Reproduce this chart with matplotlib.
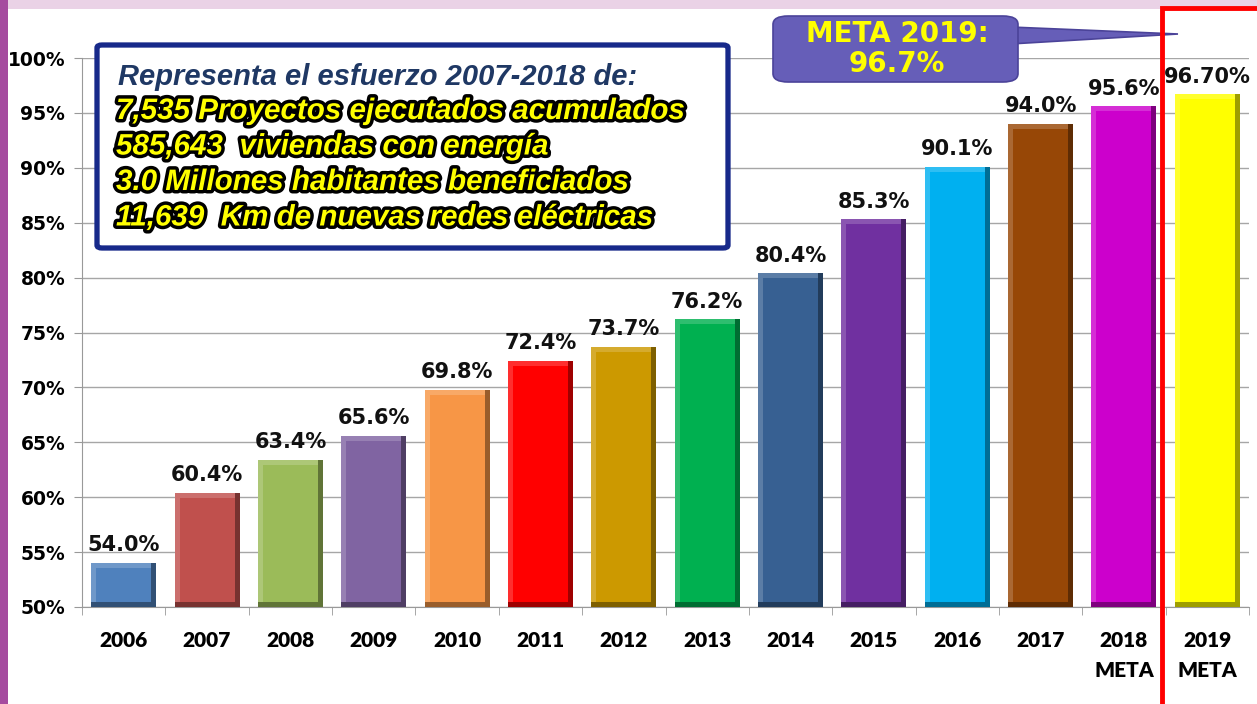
import matplotlib.pyplot as plt
import matplotlib.patheffects as pe
from matplotlib.patches import FancyBboxPatch, Rectangle, Polygon
import matplotlib.colors as mcolors

years = ["2006", "2007", "2008", "2009", "2010", "2011", "2012",
         "2013", "2014", "2015", "2016", "2017", "2018\nMETA", "2019\nMETA"]
values = [54.0, 60.4, 63.4, 65.6, 69.8, 72.4, 73.7, 76.2, 80.4, 85.3, 90.1, 94.0, 95.6, 96.7]
labels = ["54.0%", "60.4%", "63.4%", "65.6%", "69.8%", "72.4%", "73.7%",
          "76.2%", "80.4%", "85.3%", "90.1%", "94.0%", "95.6%", "96.70%"]
colors = ["#4F81BD", "#C0504D", "#9BBB59", "#8064A2", "#F79646", "#FF0000", "#CC9900",
          "#00B050", "#376092", "#7030A0", "#00B0F0", "#974706", "#CC00CC", "#FFFF00"]
box_lines = ["7,535 Proyectos ejecutados acumulados",
             "585,643  viviendas con energía",
             "3.0 Millones habitantes beneficiados",
             "11,639  Km de nuevas redes eléctricas"]

W, H = 1257, 704
fig = plt.figure(figsize=(W / 100, H / 100), dpi=100, facecolor="#A54B9F")

# background: purple frame on the left, light pink strip on top, white slide
fig.patches.append(Rectangle((8 / W, 0), 1, 1, transform=fig.transFigure,
                             facecolor="#EAD2E6", edgecolor="none", zorder=-2))
fig.patches.append(Rectangle((8 / W, 0), 1, 1 - 9 / H, transform=fig.transFigure,
                             facecolor="white", edgecolor="none", zorder=-1))

ax = fig.add_axes([82 / W, 1 - 607 / H, (1249 - 82) / W, (607 - 58) / H])
ax.set_facecolor("none")

x = list(range(len(values)))
bw = 0.78
base = 50
bx = 0.06   # bevel width in x units
by = 0.45   # bevel height in y units


def shade(c, f):
    r, g, b = mcolors.to_rgb(c)
    if f < 1:
        return (r * f, g * f, b * f)
    f = f - 1
    return (r + (1 - r) * f, g + (1 - g) * f, b + (1 - b) * f)


for i, v in enumerate(values):
    c = colors[i]
    ax.bar(i, v - base, bw, bottom=base, color=shade(c, 0.62), zorder=3)
    ax.bar(i - bx / 2, v - base - by, bw - bx, bottom=base + by, color=shade(c, 1.18), zorder=3)
    ax.bar(i, v - base - 2 * by, bw - 2 * bx, bottom=base + by, color=c, zorder=3)
    ax.text(i, v + 0.7, labels[i], ha="center", va="bottom", fontsize=15,
            fontweight="bold", color="#111111", zorder=5)

ax.set_xlim(-0.5, len(values) - 0.5)
ax.set_ylim(50, 100)
ax.set_yticks(range(50, 101, 5))
ax.set_yticklabels([f"{t}%" for t in range(50, 101, 5)], fontsize=13.5, fontweight="bold")
ax.set_xticks(x)
ax.set_xticklabels(years, fontsize=15, fontweight="heavy", family="Lato", linespacing=1.7)
ax.set_xticks([i - 0.5 for i in range(len(values) + 1)], minor=True)
ax.tick_params(axis="x", which="major", length=0, pad=17)
ax.tick_params(axis="x", which="minor", length=6, color="#999999")
ax.tick_params(axis="y", length=6, color="#999999", pad=6)
ax.grid(axis="y", color="#A6A6A6", linewidth=1, zorder=1)
for s in ["top", "right"]:
    ax.spines[s].set_visible(False)
ax.spines["left"].set_color("#999999")
ax.spines["bottom"].set_color("#999999")

# info box
fig.patches.append(FancyBboxPatch((97 / W, 1 - 248 / H), (728 - 97) / W, (248 - 45) / H,
                                  boxstyle="round,pad=0,rounding_size=0.004",
                                  transform=fig.transFigure, facecolor="white",
                                  edgecolor="#17298A", linewidth=3.8, zorder=6))
fig.text(118 / W, 1 - 77 / H, "Representa el esfuerzo 2007-2018 de:", fontsize=21,
         fontweight="bold", style="italic", family="Liberation Sans", color="#1F3864",
         va="center", zorder=7)
glow = [pe.withStroke(linewidth=5, foreground="black")]
for k, line in enumerate(box_lines):
    fig.text(116 / W, 1 - (111 + 35.5 * k) / H, line, fontsize=21.3, fontweight="bold",
             style="italic", family="Liberation Sans", color="#FFFF00", va="center",
             path_effects=glow, zorder=7)

# callout
fig.patches.append(Polygon([(1010 / W, 1 - 27 / H), (1178 / W, 1 - 34 / H), (1010 / W, 1 - 44 / H)],
                           closed=True, transform=fig.transFigure, facecolor="#665EB8",
                           edgecolor="#4B4399", linewidth=1.2, zorder=8))
fig.patches.append(FancyBboxPatch((773 / W, 1 - 82 / H), (1018 - 773) / W, (82 - 16) / H,
                                  boxstyle="round,pad=0,rounding_size=0.012",
                                  transform=fig.transFigure, facecolor="#665EB8",
                                  edgecolor="#4B4399", linewidth=1.2, zorder=8))
fig.text(897 / W, 1 - 49 / H, "META 2019:\n96.7%", fontsize=20, fontweight="bold",
         color="#FFFF00", ha="center", va="center", linespacing=1.05, zorder=9)

# red frame around 2019 target
fig.patches.append(Rectangle((1162 / W, -0.01), 0.1, 1 - 8 / H + 0.01,
                             transform=fig.transFigure, facecolor="none",
                             edgecolor="#FF0000", linewidth=3.5, zorder=10))

plt.savefig("out.png", dpi=100, facecolor=fig.get_facecolor())
